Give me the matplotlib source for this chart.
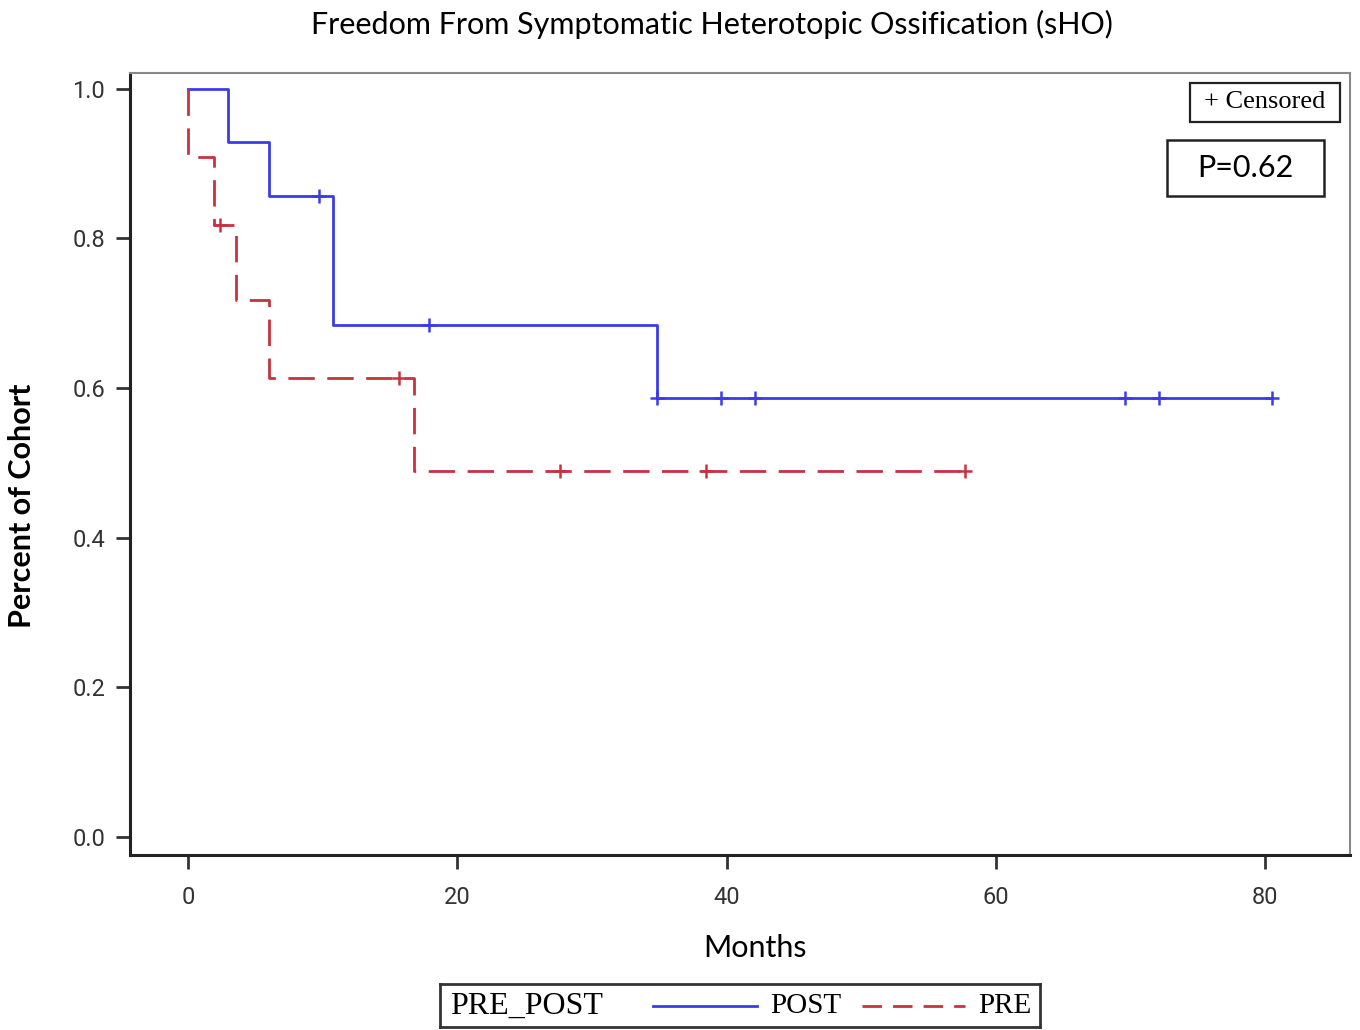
import matplotlib
matplotlib.use("Agg")
import matplotlib.pyplot as plt
from matplotlib.lines import Line2D
from matplotlib.patches import Rectangle

# ---- data ----
post_times = [0, 2.95, 6.0, 10.8, 34.8, 80.5]
post_surv = [1.0, 0.929, 0.857, 0.684, 0.587, 0.587]
post_cens_t = [9.7, 17.9, 34.8, 39.6, 42.1, 69.6, 72.1, 80.5]
post_cens_s = [0.857, 0.684, 0.587, 0.587, 0.587, 0.587, 0.587, 0.587]

pre_times = [0, 0, 1.95, 3.6, 6.0, 16.8, 57.7]
pre_surv = [1.0, 0.909, 0.818, 0.718, 0.613, 0.489, 0.489]
pre_cens_t = [2.4, 15.7, 27.6, 38.5, 57.7]
pre_cens_s = [0.818, 0.613, 0.489, 0.489, 0.489]

xticks = [0, 20, 40, 60, 80]
yticks = [0.0, 0.2, 0.4, 0.6, 0.8, 1.0]
title = "Freedom From Symptomatic Heterotopic Ossification (sHO)"
p_text = "P=0.62"

BLUE = "#3b3be8"
RED = "#c8323f"
CAL = ["Lato", "DejaVu Sans"]
TICKF = ["Roboto", "DejaVu Sans"]
SERIF = ["Liberation Serif", "DejaVu Serif"]

fig = plt.figure(figsize=(13.6, 10.3), dpi=100)
ax = fig.add_axes([130/1360, 1-855/1030, 1220/1360, 782/1030])

ax.step(post_times, post_surv, where="post", color=BLUE, lw=2)
ax.plot(post_cens_t, post_cens_s, ls="none", marker="+", ms=10, mew=1.8, color=BLUE)
ax.step(pre_times, pre_surv, where="post", color=RED, lw=2, dashes=(9.5, 4.5))
ax.plot(pre_cens_t, pre_cens_s, ls="none", marker="+", ms=10, mew=1.8, color=RED)

ax.set_xlim(-4.3, 86.3)
ax.set_ylim(-0.024, 1.021)
ax.set_xticks(xticks)
ax.set_yticks(yticks)
ax.set_xticklabels([str(t) for t in xticks], fontfamily=TICKF, fontsize=17, color="#333333")
ax.set_yticklabels([f"{t:.1f}" for t in yticks], fontfamily=TICKF, fontsize=17, color="#333333")
ax.tick_params(axis="x", pad=12)
ax.tick_params(direction="out", length=10, width=2, color="#333333")
ax.tick_params(axis="y", pad=8)

for s in ["left", "bottom"]:
    ax.spines[s].set_linewidth(2.2)
    ax.spines[s].set_color("#222222")
for s in ["top", "right"]:
    ax.spines[s].set_linewidth(1.5)
    ax.spines[s].set_color("#888888")

fig.text(755/1360, 1-948/1030, "Months", ha="center", va="center", fontfamily=CAL, fontsize=22)
fig.text(22/1360, 1-506/1030, "Percent of Cohort", ha="center", va="center", rotation=90,
         fontfamily=CAL, fontsize=22, fontweight="bold")
fig.text(712/1360, 1-24/1030, title, ha="center", va="center", fontfamily=CAL, fontsize=22)

# censored box
ax.add_patch(Rectangle((0.8689, 0.9373), 0.9918-0.8689, 0.9872-0.9373, transform=ax.transAxes,
                       fc="white", ec="#222222", lw=1.6, zorder=5))
ax.text(0.9303, 0.963, "+ Censored", transform=ax.transAxes, ha="center", va="center",
        fontfamily=SERIF, fontsize=19, zorder=6)
# p-value box
ax.add_patch(Rectangle((0.850, 0.8427), 0.9787-0.850, 0.9143-0.8427, transform=ax.transAxes,
                       fc="white", ec="#222222", lw=1.8, zorder=5))
ax.text(0.9143, 0.8785, p_text, transform=ax.transAxes, ha="center", va="center",
        fontfamily=CAL, fontsize=22, zorder=6)

# bottom legend
lax = fig.add_axes([440/1360, 1-1027/1030, 600/1360, 43/1030])
lax.set_xlim(0, 600)
lax.set_ylim(0, 43)
lax.set_xticks([])
lax.set_yticks([])
for s in lax.spines.values():
    s.set_linewidth(2)
    s.set_color("#333333")
lax.text(10, 21, "PRE_POST", fontfamily=SERIF, fontsize=23, va="center", ha="left")
lax.add_line(Line2D([213, 317], [21, 21], color=BLUE, lw=2))
lax.text(330, 21, "POST", fontfamily=SERIF, fontsize=21, va="center", ha="left")
lax.add_line(Line2D([422, 525], [21, 21], color=RED, lw=2, dashes=(7, 4)))
lax.text(538, 21, "PRE", fontfamily=SERIF, fontsize=21, va="center", ha="left")

fig.savefig("out.png", dpi=100)
